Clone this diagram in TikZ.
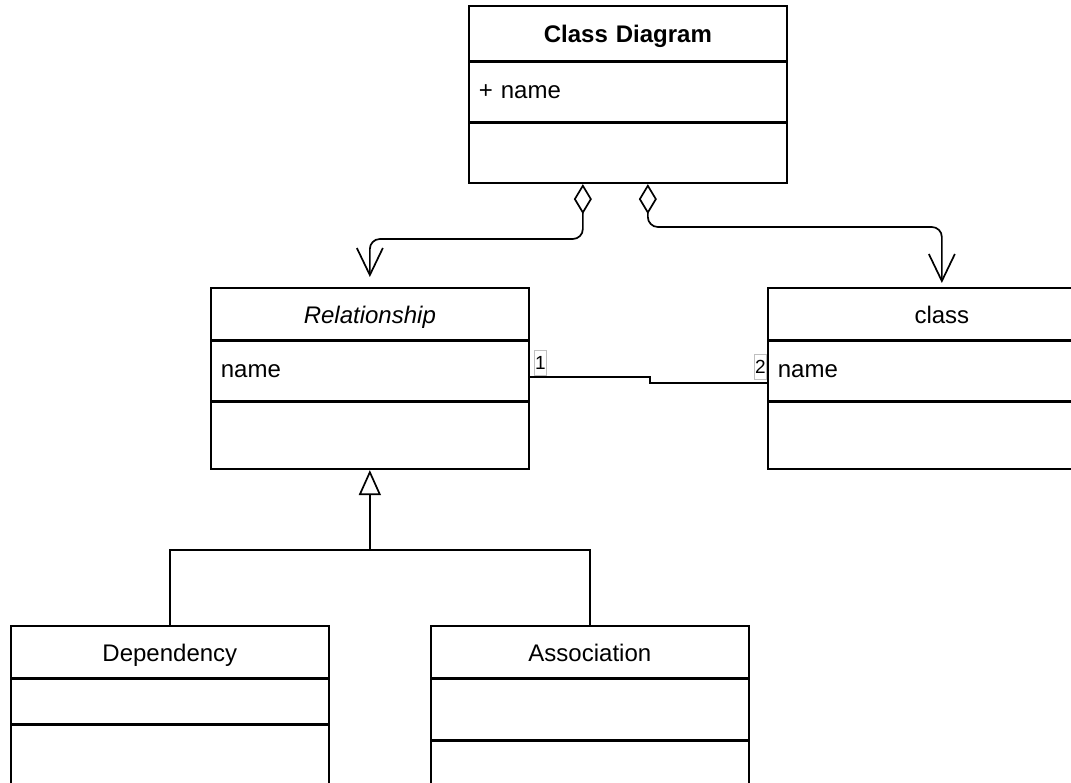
\documentclass[tikz,border=0pt]{standalone}
\usepackage{fontspec}
\setmainfont{Liberation Sans}
\usetikzlibrary{arrows.meta,calc}
\newcommand\umlfont{\fontsize{24}{28}\selectfont}
\newcommand\multfont{\fontsize{19}{22}\selectfont}
\begin{document}
\begin{tikzpicture}[x=1pt,y=-1pt,line width=1.7pt,
  part/.style={draw,anchor=north west,inner xsep=10pt,inner ysep=0pt,font=\umlfont},
  head/.style={align=center,text height=22pt,text depth=3pt},
  wide/.style={text width=298pt},
  wider/.style={text width=328pt},
  agg/.style={rounded corners=10pt,{Diamond[open,length=30pt,width=18pt]}-{Straight Barb[length=27pt,width=26pt]}},
  gen/.style={-{Triangle[open,length=25pt,width=22pt]}},
  mult/.style={draw=black!25,line width=0.6pt,inner sep=1pt,minimum height=25pt,font=\multfont}]
\useasboundingbox (0,0) rectangle (1071,783);
\fill[white] (0,0) rectangle (1071,783);
\clip (0,0) rectangle (1071,783);

% Class Diagram
\node[part,wide,head,minimum height=55pt] (cdHead) at (468,5) {\textbf{Class Diagram}};
\node[part,wide,minimum height=59pt,align=left] (cdAttr) at (cdHead.south west) {+ name};
\node[part,wide,minimum height=60pt] (cdOps) at (cdAttr.south west) {};

% Relationship
\node[part,wide,head,minimum height=52pt] (relHead) at (210,287) {\textit{Relationship}};
\node[part,wide,minimum height=59pt,align=left] (relAttr) at (relHead.south west) {name};
\node[part,wide,minimum height=67pt] (relOps) at (relAttr.south west) {};

% class
\node[part,wider,head,minimum height=52pt] (clsHead) at (767,287) {class};
\node[part,wider,minimum height=59pt,align=left] (clsAttr) at (clsHead.south west) {name};
\node[part,wider,minimum height=67pt] (clsOps) at (clsAttr.south west) {};

% Dependency
\node[part,wide,head,minimum height=52pt] (depHead) at (10,625) {Dependency};
\node[part,wide,minimum height=44pt] (depAttr) at (depHead.south west) {};
\node[part,wide,minimum height=100pt] (depOps) at (depAttr.south west) {};

% Association
\node[part,wide,head,minimum height=52pt] (ascHead) at (430,625) {Association};
\node[part,wide,minimum height=60pt] (ascAttr) at (ascHead.south west) {};
\node[part,wide,minimum height=100pt] (ascOps) at (ascAttr.south west) {};

% aggregations
\draw[agg,shorten >=10pt] ($(cdOps.south)+(-45,0)$) |- ($(relHead.north)+(0,-48)$) -- (relHead.north);
\draw[agg,shorten >=4pt] ($(cdOps.south)+(20,0)$) |- ($(clsHead.north)+(0,-60)$) -- (clsHead.north);

% association between Relationship and class
\draw ($(relAttr.east)+(0,6)$) -- ++(120,0) |- ($(clsAttr.west)+(0,12)$);
\node[mult,anchor=south west] (m1) at ($(relAttr.east)+(4,5)$) {1};
\node[mult,anchor=south east] (m2) at ($(clsAttr.west)+(0,9)$) {2};

% generalization
\coordinate (j) at ($(relOps.south)+(0,80)$);
\draw[gen] (depHead.north) |- (j) -- (relOps.south);
\draw (ascHead.north) |- (j);
\end{tikzpicture}
\end{document}
